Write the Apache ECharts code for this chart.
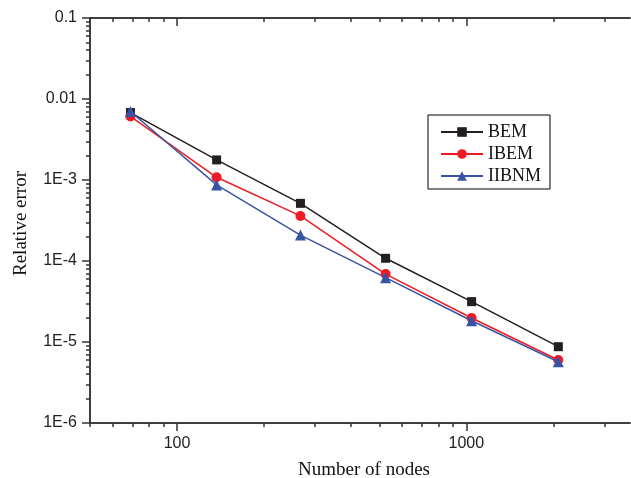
<!DOCTYPE html>
<html>
<head>
<meta charset="utf-8">
<script src="https://cdn.jsdelivr.net/npm/echarts@6/dist/echarts.min.js"></script>
<style>
html,body{margin:0;padding:0;background:#fff;}
#chart{width:631px;height:478px;}
</style>
</head>
<body>
<div id="chart"></div>
<script>
// ---- data ----
const nodes = [69, 137, 267, 526, 1043, 2080];
const bem   = [6.8e-3, 1.77e-3, 5.15e-4, 1.08e-4, 3.15e-5, 8.75e-6];
const ibem  = [6.1e-3, 1.08e-3, 3.6e-4, 6.9e-5, 1.98e-5, 6.0e-6];
const iibnm = [7.0e-3, 8.7e-4, 2.09e-4, 6.22e-5, 1.83e-5, 5.7e-6];
const seriesNames = ['BEM', 'IBEM', 'IIBNM'];

// ---- axis ticks ----
const xMajorTicks = [100, 1000];
const xTickLabels = ['100', '1000'];
const xMinorTicks = [50, 60, 70, 80, 90, 200, 300, 400, 500, 600, 700, 800, 900, 2000, 3000];
const yMajorTicks = [1e-6, 1e-5, 1e-4, 1e-3, 1e-2, 1e-1];
const yTickLabels = ['1E-6', '1E-5', '1E-4', '1E-3', '0.01', '0.1'];
const yMinorTicks = [];
for (let e = -6; e < -1; e++) {
  for (let m = 2; m <= 9; m++) yMinorTicks.push(m * Math.pow(10, e));
}

const axisColor = '#333';
const xMin = 50, xMax = 3680, yMin = 1e-6, yMax = 0.1;

function xAxisDef(pos, ticks, len, inside, labels) {
  return {
    type: 'log', logBase: 10, min: xMin, max: xMax, position: pos,
    axisLine: { show: true, onZero: false, lineStyle: { color: axisColor, width: 1.5 } },
    axisTick: { show: true, inside: inside, length: len, customValues: ticks,
                lineStyle: { color: axisColor, width: 1.5 } },
    axisLabel: labels ? {
      show: true, customValues: xMajorTicks, margin: 13,
      fontFamily: 'Liberation Sans', fontSize: 16, color: '#222',
      formatter: function (v) {
        const e = Math.round(Math.log10(v));
        return xTickLabels[e - 2];
      }
    } : { show: false },
    splitLine: { show: false },
    minorTick: { show: false }
  };
}
function yAxisDef(ticks, len, labels) {
  return {
    type: 'log', logBase: 10, min: yMin, max: yMax, position: 'left',
    axisLine: { show: true, onZero: false, lineStyle: { color: axisColor, width: 1.5 } },
    axisTick: { show: true, inside: false, length: len, customValues: ticks,
                lineStyle: { color: axisColor, width: 1.5 } },
    axisLabel: labels ? {
      show: true, customValues: yMajorTicks, margin: 13,
      fontFamily: 'Liberation Sans', fontSize: 16, color: '#222',
      formatter: function (v) {
        const e = Math.round(Math.log10(v));
        return yTickLabels[e + 6];
      }
    } : { show: false },
    splitLine: { show: false }
  };
}

const xA0 = xAxisDef('bottom', xMajorTicks, 8, false, true);
xA0.name = 'Number of nodes';
xA0.nameLocation = 'middle';
xA0.nameGap = 38;
xA0.nameTextStyle = { fontFamily: 'Liberation Serif', fontSize: 19, color: '#111', padding: [0, 0, 0, 8] };

const yA0 = yAxisDef(yMajorTicks, 8, true);
yA0.name = 'Relative error';
yA0.nameLocation = 'middle';
yA0.nameGap = 59;
yA0.nameTextStyle = { fontFamily: 'Liberation Serif', fontSize: 19, color: '#111', padding: [0, 6, 0, 0] };

const colors = ['#231f20', '#ed1c24', '#3953a4'];
const symbols = ['rect', 'circle', 'triangle'];
const sizes = [9, 10, 11];
const values = [bem, ibem, iibnm];

const chart = echarts.init(document.getElementById('chart'), null, { renderer: 'canvas' });
chart.setOption({
  animation: false,
  backgroundColor: '#fff',
  grid: { left: 90, top: 18, right: 1, bottom: 55, containLabel: false, outerBoundsMode: 'none' },
  legend: {
    orient: 'vertical', left: 428, top: 115,
    itemWidth: 42, itemHeight: 12, itemGap: 4,
    padding: [8, 9, 4, 12],
    borderColor: '#000', borderWidth: 1,
    textStyle: { fontFamily: 'Liberation Serif', fontSize: 18, color: '#111' },
    data: seriesNames
  },
  xAxis: [
    xA0,
    xAxisDef('bottom', xMinorTicks, 4, false, false),
    xAxisDef('top', xMajorTicks, 8, true, false),
    xAxisDef('top', xMinorTicks, 4, true, false)
  ],
  yAxis: [
    yA0,
    yAxisDef(yMinorTicks, 4, false)
  ],
  series: seriesNames.map(function (n, i) {
    return {
      name: n, type: 'line', xAxisIndex: 0, yAxisIndex: 0,
      data: nodes.map(function (x, k) { return [x, values[i][k]]; }),
      symbol: symbols[i], symbolSize: sizes[i], showSymbol: true,
      itemStyle: { color: colors[i] },
      lineStyle: { color: colors[i], width: 1.5 },
      z: 2 + i
    };
  })
});
</script>
</body>
</html>
